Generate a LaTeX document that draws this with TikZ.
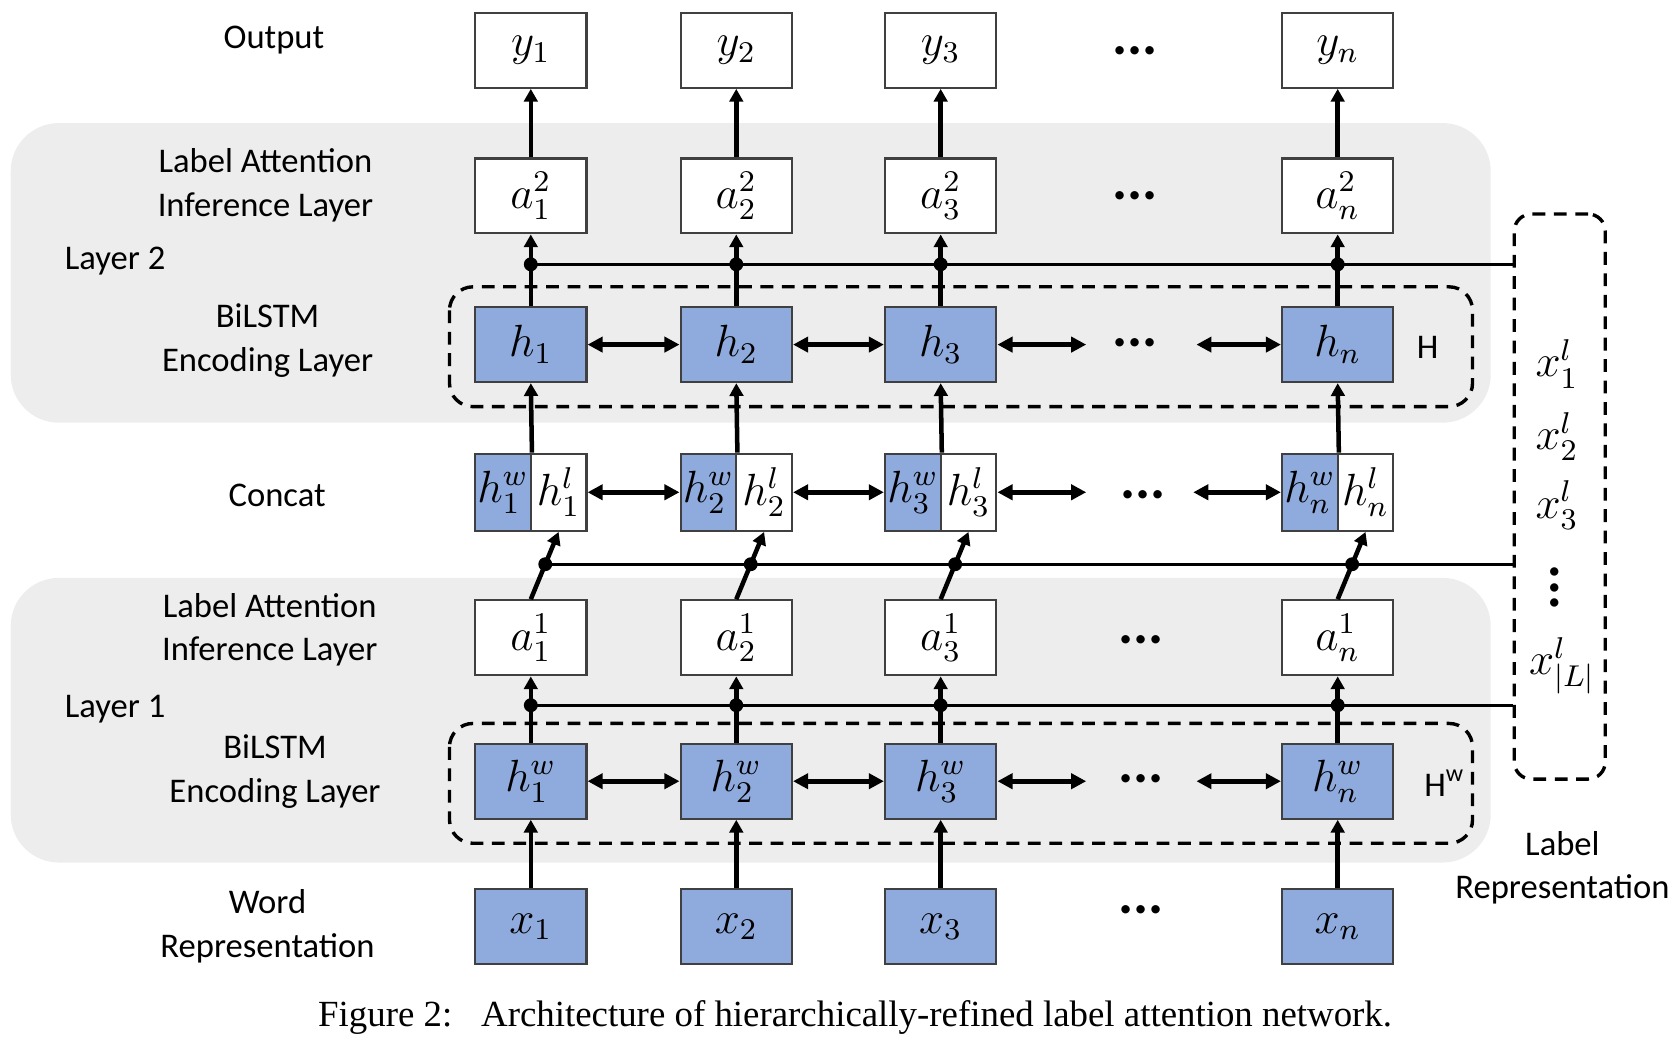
\documentclass[tikz,border=0pt]{standalone}
\usepackage{fontspec}
\setmainfont{Carlito}
\newfontfamily\capfont{Liberation Serif}
\usepackage{xcolor}
\usepackage{tikz}
\usetikzlibrary{arrows.meta,calc}
\definecolor{azulcaja}{RGB}{143,170,220}
\definecolor{grisbanda}{RGB}{237,237,237}
\definecolor{bordecaja}{RGB}{64,64,64}
\tikzset{
  caja/.style={draw=bordecaja,line width=0.6pt,fill=white,minimum width=1.04cm,minimum height=0.70cm,inner sep=0pt,font=\fontsize{11.5}{13}\selectfont},
  azul/.style={caja,fill=azulcaja},
  media/.style={minimum width=0.52cm,minimum height=0.72cm},
  flecha/.style={-{Triangle[length=3.4pt,width=3.6pt]},line width=1.2pt},
  doble/.style={{Triangle[length=4pt,width=4pt]}-{Triangle[length=4pt,width=4pt]},line width=1.3pt},
  union/.style={line width=0.8pt},
  nudo/.style={circle,fill=black,inner sep=0pt,minimum size=0.13cm},
  grupo/.style={draw,line width=0.9pt,dash pattern=on 3.4pt off 2.3pt,rounded corners=0.22cm},
  banda/.style={fill=grisbanda,rounded corners=0.45cm},
  etiq/.style={align=center,font=\fontsize{9.2}{11.6}\selectfont},
  puntos/.style={font=\fontsize{15}{15}\selectfont\bfseries,inner sep=0pt}
}

\begin{document}
\begin{tikzpicture}[scale=1.0]
\useasboundingbox (0,0) rectangle (15.68,-9.73);
% bandas de las dos capas
\fill[banda] (0.10,-1.15) rectangle (13.93,-3.95);
\fill[banda] (0.10,-5.40) rectangle (13.93,-8.06);
\draw[grupo] (4.20,-2.68) rectangle (13.76,-3.80);
\draw[grupo] (4.20,-6.76) rectangle (13.76,-7.88);
\node[etiq] (hname) at (13.34,-3.25) {H};
\node[etiq] (hwname) at (13.50,-7.32) {H\textsuperscript{w}};

% textos de la izquierda
\node[etiq] (tout) at (2.56,-0.37) {Output};
\node[etiq] (tatt2) at (2.48,-1.73) {Label Attention\\Inference Layer};
\node[etiq,anchor=west,inner sep=0pt] (tlay2) at (0.60,-2.44) {Layer 2};
\node[etiq] (tbil2) at (2.50,-3.18) {BiLSTM\\Encoding Layer};
\node[etiq] (tcat) at (2.59,-4.63) {Concat};
\node[etiq] (tatt1) at (2.52,-5.885) {Label Attention\\Inference Layer};
\node[etiq,anchor=west,inner sep=0pt] (tlay1) at (0.60,-6.63) {Layer 1};
\node[etiq] (tbil1) at (2.57,-7.21) {BiLSTM\\Encoding Layer};
\node[etiq] (tword) at (2.50,-8.655) {Word\\Representation};

% salida
\node[caja] (y1) at (4.96,-0.47) {$y_1$}; \node[caja] (y2) at (6.88,-0.47) {$y_2$};
\node[caja] (y3) at (8.79,-0.47) {$y_3$}; \node[caja] (yn) at (12.50,-0.47) {$y_n$};
\node[puntos] (yd) at (10.61,-0.47) {...};
% capa 2
\node[caja] (atwo1) at (4.96,-1.83) {$a_1^2$}; \node[caja] (atwo2) at (6.88,-1.83) {$a_2^2$};
\node[caja] (atwo3) at (8.79,-1.83) {$a_3^2$}; \node[caja] (atwon) at (12.50,-1.83) {$a_n^2$};
\node[puntos] (atwod) at (10.61,-1.83) {...};
\node[azul] (h1) at (4.96,-3.22) {$h_1$}; \node[azul] (h2) at (6.88,-3.22) {$h_2$};
\node[azul] (h3) at (8.79,-3.22) {$h_3$}; \node[azul] (hn) at (12.50,-3.22) {$h_n$};
\node[puntos] (hd) at (10.61,-3.20) {...};
% concat
\node[azul,media] (cw1) at (4.70,-4.60) {$h_1^w$}; \node[caja,media] (cl1) at (5.22,-4.60) {$h_1^l$};
\node[azul,media] (cw2) at (6.62,-4.60) {$h_2^w$}; \node[caja,media] (cl2) at (7.14,-4.60) {$h_2^l$};
\node[azul,media] (cw3) at (8.53,-4.60) {$h_3^w$}; \node[caja,media] (cl3) at (9.05,-4.60) {$h_3^l$};
\node[azul,media] (cwn) at (12.24,-4.60) {$h_n^w$}; \node[caja,media] (cln) at (12.76,-4.60) {$h_n^l$};
\node[puntos] (cd) at (10.68,-4.62) {...};
% capa 1
\node[caja] (aone1) at (4.96,-5.96) {$a_1^1$}; \node[caja] (aone2) at (6.88,-5.96) {$a_2^1$};
\node[caja] (aone3) at (8.79,-5.96) {$a_3^1$}; \node[caja] (aonen) at (12.50,-5.96) {$a_n^1$};
\node[puntos] (aoned) at (10.66,-5.98) {...};
\node[azul] (hw1) at (4.96,-7.30) {$h_1^w$}; \node[azul] (hw2) at (6.88,-7.30) {$h_2^w$};
\node[azul] (hw3) at (8.79,-7.30) {$h_3^w$}; \node[azul] (hwn) at (12.50,-7.30) {$h_n^w$};
\node[puntos] (hwd) at (10.66,-7.28) {...};
% entrada
\node[azul] (x1) at (4.96,-8.66) {$x_1$}; \node[azul] (x2) at (6.88,-8.66) {$x_2$};
\node[azul] (x3) at (8.79,-8.66) {$x_3$}; \node[azul] (xn) at (12.50,-8.66) {$x_n$};
\node[puntos] (xd) at (10.66,-8.50) {...};

% representacion de etiquetas
\node[grupo,rounded corners=0.16cm,minimum width=0.85cm,minimum height=5.28cm,inner sep=0pt] (labrep) at (14.575,-4.64) {};
\node[font=\fontsize{11.5}{13}\selectfont] (xl1) at (14.55,-3.40) {$x_1^l$};
\node[font=\fontsize{11.5}{13}\selectfont] (xl2) at (14.55,-4.08) {$x_2^l$};
\node[font=\fontsize{11.5}{13}\selectfont] (xl3) at (14.55,-4.72) {$x_3^l$};
\node[puntos,rotate=90] (xld) at (14.53,-5.49) {...};
\node[font=\fontsize{11.5}{13}\selectfont] (xlL) at (14.60,-6.22) {$x_{|L|}^l$};
\node[etiq] (trep) at (14.60,-8.11) {Label\\Representation};

% nudos de union
\node[nudo] (p21) at (4.96,-2.47) {}; \node[nudo] (p22) at (6.88,-2.47) {};
\node[nudo] (p23) at (8.79,-2.47) {}; \node[nudo] (p2n) at (12.50,-2.47) {};
\node[nudo] (pc1) at ($(aone1.north)!0.52!(cl1.south)$) {}; \node[nudo] (pc2) at ($(aone2.north)!0.52!(cl2.south)$) {};
\node[nudo] (pc3) at ($(aone3.north)!0.52!(cl3.south)$) {}; \node[nudo] (pcn) at ($(aonen.north)!0.52!(cln.south)$) {};
\node[nudo] (p11) at (4.96,-6.59) {}; \node[nudo] (p12) at (6.88,-6.59) {};
\node[nudo] (p13) at (8.79,-6.59) {}; \node[nudo] (p1n) at (12.50,-6.59) {};
\draw[union] (p21.center) -- (p21.center -| labrep.west);
\draw[union] (pc1.center) -- (pc1.center -| labrep.west);
\draw[union] (p11.center) -- (p11.center -| labrep.west);

% flechas verticales
\draw[flecha] (atwo1) -- (y1); \draw[flecha] (atwo2) -- (y2); \draw[flecha] (atwo3) -- (y3); \draw[flecha] (atwon) -- (yn);
\draw[flecha] (h1) -- (atwo1); \draw[flecha] (h2) -- (atwo2); \draw[flecha] (h3) -- (atwo3); \draw[flecha] (hn) -- (atwon);
\draw[flecha] (cw1.north east) -- (h1.south); \draw[flecha] (cw2.north east) -- (h2.south);
\draw[flecha] (cw3.north east) -- (h3.south); \draw[flecha] (cwn.north east) -- (hn.south);
\draw[flecha] (aone1.north) -- (cl1.south); \draw[flecha] (aone2.north) -- (cl2.south);
\draw[flecha] (aone3.north) -- (cl3.south); \draw[flecha] (aonen.north) -- (cln.south);
\draw[flecha] (hw1) -- (aone1); \draw[flecha] (hw2) -- (aone2); \draw[flecha] (hw3) -- (aone3); \draw[flecha] (hwn) -- (aonen);
\draw[flecha] (x1) -- (hw1); \draw[flecha] (x2) -- (hw2); \draw[flecha] (x3) -- (hw3); \draw[flecha] (xn) -- (hwn);

% flechas dobles
\coordinate (hdl) at (10.15,-3.22); \coordinate (hdr) at (11.18,-3.22);
\coordinate (cdl) at (10.15,-4.60); \coordinate (cdr) at (11.15,-4.60);
\coordinate (hwdl) at (10.15,-7.30); \coordinate (hwdr) at (11.18,-7.30);
\draw[doble] (h1) -- (h2); \draw[doble] (h2) -- (h3); \draw[doble] (h3) -- (hdl); \draw[doble] (hdr) -- (hn);
\draw[doble] (cl1) -- (cw2); \draw[doble] (cl2) -- (cw3); \draw[doble] (cl3) -- (cdl); \draw[doble] (cdr) -- (cwn);
\draw[doble] (hw1) -- (hw2); \draw[doble] (hw2) -- (hw3); \draw[doble] (hw3) -- (hwdl); \draw[doble] (hwdr) -- (hwn);

\node[font=\capfont\fontsize{9.8}{12}\selectfont] (cap) at (7.99,-9.51) {Figure 2:\hspace{0.45em} Architecture of hierarchically-refined label attention network.};
\end{tikzpicture}
\end{document}
